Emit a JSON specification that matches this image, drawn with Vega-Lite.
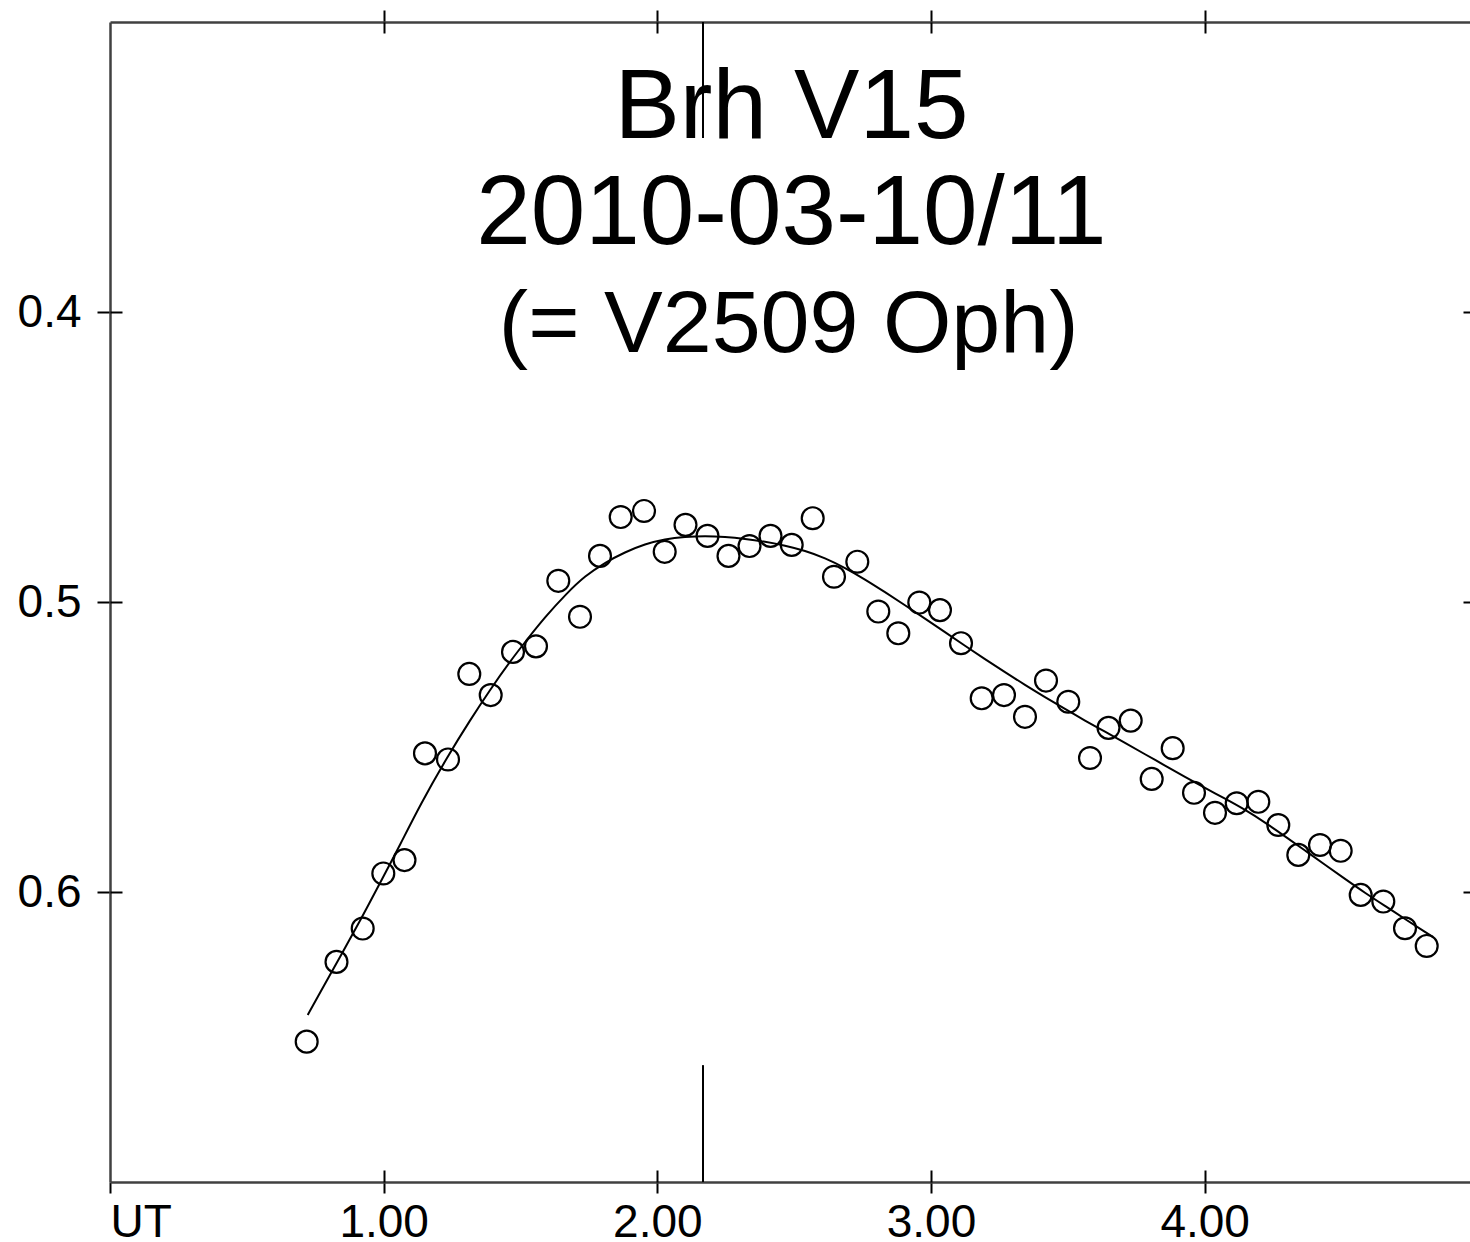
{
  "$schema": "https://vega.github.io/schema/vega-lite/v6.json",
  "width": 1360,
  "height": 1160,
  "autosize": {"type": "none"},
  "padding": {"left": 110, "top": 22, "right": 0, "bottom": 60},
  "background": "white",
  "config": {
    "view": {"stroke": null},
    "axis": {"grid": false, "title": null, "labelFont": "Liberation Sans", "labelFontSize": 46, "labelColor": "black", "tickColor": "black", "tickWidth": 2, "domainColor": "#404040", "domainWidth": 2.5}
  },
  "datasets": {
    "obs": [
      {"t": 0.7187, "m": 0.6516}, {"t": 0.8276, "m": 0.6241}, {"t": 0.9234, "m": 0.6126}, {"t": 0.9987, "m": 0.5936},
      {"t": 1.0761, "m": 0.5890}, {"t": 1.1510, "m": 0.5522}, {"t": 1.2351, "m": 0.5543}, {"t": 1.3129, "m": 0.5248},
      {"t": 1.3911, "m": 0.5321}, {"t": 1.4726, "m": 0.5172}, {"t": 1.5566, "m": 0.5153}, {"t": 1.6381, "m": 0.4927},
      {"t": 1.7174, "m": 0.5051}, {"t": 1.7905, "m": 0.4841}, {"t": 1.8661, "m": 0.4707}, {"t": 1.9513, "m": 0.4686},
      {"t": 2.0269, "m": 0.4827}, {"t": 2.1029, "m": 0.4734}, {"t": 2.1833, "m": 0.4772}, {"t": 2.2600, "m": 0.4841},
      {"t": 2.3368, "m": 0.4807}, {"t": 2.4135, "m": 0.4772}, {"t": 2.4910, "m": 0.4803}, {"t": 2.5677, "m": 0.4711},
      {"t": 2.6455, "m": 0.4913}, {"t": 2.7307, "m": 0.4861}, {"t": 2.8074, "m": 0.5033}, {"t": 2.8805, "m": 0.5108},
      {"t": 2.9572, "m": 0.5002}, {"t": 3.0328, "m": 0.5028}, {"t": 3.1096, "m": 0.5142}, {"t": 3.1852, "m": 0.5332},
      {"t": 3.2667, "m": 0.5321}, {"t": 3.3434, "m": 0.5396}, {"t": 3.4202, "m": 0.5271}, {"t": 3.5016, "m": 0.5344},
      {"t": 3.5810, "m": 0.5538}, {"t": 3.6486, "m": 0.5434}, {"t": 3.7297, "m": 0.5409}, {"t": 3.8064, "m": 0.5610},
      {"t": 3.8831, "m": 0.5504}, {"t": 3.9610, "m": 0.5658}, {"t": 4.0377, "m": 0.5727}, {"t": 4.1170, "m": 0.5694},
      {"t": 4.1960, "m": 0.5689}, {"t": 4.2690, "m": 0.5769}, {"t": 4.3421, "m": 0.5872}, {"t": 4.4214, "m": 0.5838},
      {"t": 4.4970, "m": 0.5858}, {"t": 4.5701, "m": 0.6010}, {"t": 4.6527, "m": 0.6033}, {"t": 4.7320, "m": 0.6125},
      {"t": 4.8113, "m": 0.6186}
    ],
    "fit": [
      {"t": 0.7224, "m": 0.6424}, {"t": 0.7673, "m": 0.6348}, {"t": 0.8404, "m": 0.6224}, {"t": 0.9135, "m": 0.6100},
      {"t": 0.9975, "m": 0.5950}, {"t": 1.0597, "m": 0.5838}, {"t": 1.1328, "m": 0.5700}, {"t": 1.2351, "m": 0.5530},
      {"t": 1.3155, "m": 0.5408}, {"t": 1.3885, "m": 0.5303}, {"t": 1.4616, "m": 0.5205}, {"t": 1.5226, "m": 0.5131},
      {"t": 1.5895, "m": 0.5052}, {"t": 1.6688, "m": 0.4970}, {"t": 1.7357, "m": 0.4910}, {"t": 1.8088, "m": 0.4864},
      {"t": 1.8818, "m": 0.4828}, {"t": 1.9549, "m": 0.4800}, {"t": 2.0280, "m": 0.4783}, {"t": 2.1011, "m": 0.4775},
      {"t": 2.1742, "m": 0.4772}, {"t": 2.2473, "m": 0.4775}, {"t": 2.3203, "m": 0.4782}, {"t": 2.3934, "m": 0.4792},
      {"t": 2.4665, "m": 0.4805}, {"t": 2.5395, "m": 0.4823}, {"t": 2.6126, "m": 0.4848}, {"t": 2.6857, "m": 0.4882},
      {"t": 2.7588, "m": 0.4922}, {"t": 2.8319, "m": 0.4966}, {"t": 2.9049, "m": 0.5011}, {"t": 2.9780, "m": 0.5057},
      {"t": 3.0511, "m": 0.5104}, {"t": 3.1242, "m": 0.5151}, {"t": 3.1973, "m": 0.5197}, {"t": 3.2704, "m": 0.5242},
      {"t": 3.3434, "m": 0.5286}, {"t": 3.4165, "m": 0.5328}, {"t": 3.4896, "m": 0.5369}, {"t": 3.5627, "m": 0.5409},
      {"t": 3.6358, "m": 0.5447}, {"t": 3.7089, "m": 0.5486}, {"t": 3.7820, "m": 0.5525}, {"t": 3.8550, "m": 0.5564},
      {"t": 3.9281, "m": 0.5603}, {"t": 4.0012, "m": 0.5641}, {"t": 4.0743, "m": 0.5678}, {"t": 4.1474, "m": 0.5716},
      {"t": 4.2204, "m": 0.5760}, {"t": 4.2935, "m": 0.5808}, {"t": 4.3666, "m": 0.5857}, {"t": 4.4397, "m": 0.5906},
      {"t": 4.5127, "m": 0.5955}, {"t": 4.5858, "m": 0.6003}, {"t": 4.6589, "m": 0.6048}, {"t": 4.7320, "m": 0.6093},
      {"t": 4.8051, "m": 0.6138}, {"t": 4.8343, "m": 0.6155}
    ],
    "maxline": [
      {"t": 2.1668, "m1": 0.3, "m2": 0.34},
      {"t": 2.1668, "m1": 0.6597, "m2": 0.7}
    ],
    "title": [
      {"t": 2.49, "m": 0.34, "label": "Brh V15\n2010-03-10/11"}
    ],
    "subtitle": [
      {"t": 2.48, "m": 0.4138, "label": "(= V2509 Oph)"}
    ]
  },
  "resolve": {"axis": {"x": "independent", "y": "independent"}},
  "layer": [
    {
      "data": {"name": "obs"},
      "mark": {"type": "point", "shape": "circle", "filled": false, "stroke": "black", "strokeWidth": 2.2, "size": 480, "opacity": 1},
      "encoding": {
        "x": {"field": "t", "type": "quantitative", "scale": {"domain": [0, 4.9695], "nice": false, "zero": false},
          "axis": {"orient": "bottom", "values": [0, 1, 2, 3, 4], "tickSize": 11, "labelPadding": 7, "labelBaseline": "top", "labelFlush": true, "labelFlushOffset": 0, "labelExpr": "datum.value === 0 ? 'UT' : format(datum.value, '.2f')", "labelOverlap": false}},
        "y": {"field": "m", "type": "quantitative", "scale": {"domain": [0.3, 0.7], "reverse": true, "nice": false, "zero": false},
          "axis": {"orient": "left", "values": [0.4, 0.5, 0.6], "format": ".1f", "tickSize": 13, "labelPadding": 16, "labelBaseline": "middle", "labelAlign": "right", "labelFlush": false, "labelOverlap": false}}
      }
    },
    {
      "data": {"name": "fit"},
      "mark": {"type": "line", "color": "black", "strokeWidth": 2, "interpolate": "basis"},
      "encoding": {
        "x": {"field": "t", "type": "quantitative", "scale": {"domain": [0, 4.9695], "nice": false, "zero": false},
          "axis": {"orient": "bottom", "values": [1, 2, 3, 4], "tickSize": -12, "labels": false, "domain": false}},
        "y": {"field": "m", "type": "quantitative", "scale": {"domain": [0.3, 0.7], "reverse": true, "nice": false, "zero": false},
          "axis": {"orient": "left", "values": [0.4, 0.5, 0.6], "tickSize": -12, "labels": false, "domain": false}}
      }
    },
    {
      "data": {"name": "maxline"},
      "mark": {"type": "rule", "color": "black", "strokeWidth": 2},
      "encoding": {
        "x": {"field": "t", "type": "quantitative", "scale": {"domain": [0, 4.9695], "nice": false, "zero": false},
          "axis": {"orient": "top", "values": [1, 2, 3, 4], "tickSize": 12, "labels": false, "domain": true}},
        "y": {"field": "m1", "type": "quantitative", "scale": {"domain": [0.3, 0.7], "reverse": true, "nice": false, "zero": false},
          "axis": {"orient": "right", "values": [0.4, 0.5, 0.6], "tickSize": 12, "labels": false, "domain": false}},
        "y2": {"field": "m2"}
      }
    },
    {
      "data": {"name": "title"},
      "mark": {"type": "text", "font": "Liberation Sans", "fontSize": 98, "lineHeight": 106, "align": "center", "baseline": "alphabetic", "lineBreak": "\n", "color": "black"},
      "encoding": {
        "x": {"field": "t", "type": "quantitative", "scale": {"domain": [0, 4.9695], "nice": false, "zero": false},
          "axis": {"orient": "top", "values": [1, 2, 3, 4], "tickSize": -11, "labels": false, "domain": false}},
        "y": {"field": "m", "type": "quantitative", "scale": {"domain": [0.3, 0.7], "reverse": true, "nice": false, "zero": false},
          "axis": {"orient": "right", "values": [0.4, 0.5, 0.6], "tickSize": -7, "labels": false, "domain": false}},
        "text": {"field": "label"}
      }
    },
    {
      "data": {"name": "subtitle"},
      "mark": {"type": "text", "font": "Liberation Sans", "fontSize": 88, "align": "center", "baseline": "alphabetic", "color": "black"},
      "encoding": {
        "x": {"field": "t", "type": "quantitative", "scale": {"domain": [0, 4.9695], "nice": false, "zero": false}, "axis": null},
        "y": {"field": "m", "type": "quantitative", "scale": {"domain": [0.3, 0.7], "reverse": true, "nice": false, "zero": false}, "axis": null},
        "text": {"field": "label"}
      }
    }
  ]
}
